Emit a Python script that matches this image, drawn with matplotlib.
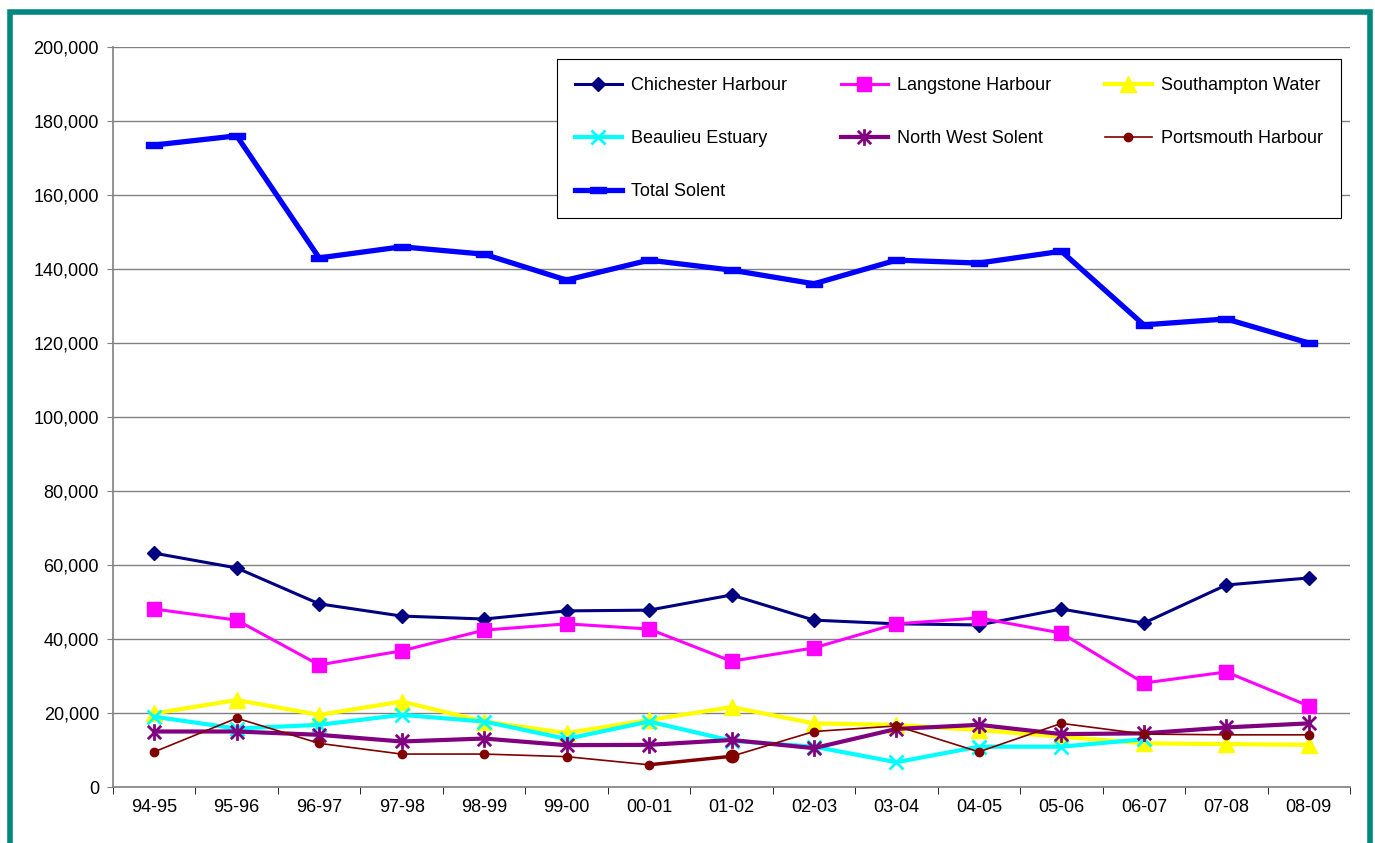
import numpy as np
import matplotlib.pyplot as plt
from matplotlib.path import Path
from matplotlib.patches import Rectangle
from matplotlib.ticker import FuncFormatter

plt.rcParams['font.family'] = ['Liberation Sans', 'DejaVu Sans']

seasons = ['94-95', '95-96', '96-97', '97-98', '98-99', '99-00', '00-01', '01-02',
           '02-03', '03-04', '04-05', '05-06', '06-07', '07-08', '08-09']

chichester = [63200, 59200, 49500, 46200, 45400, 47600, 47800, 51900,
              45100, 44100, 43800, 48100, 44300, 54600, 56500]
langstone = [48100, 45100, 33000, 36800, 42400, 44100, 42700, 34000,
             37600, 44100, 45700, 41600, 28100, 31100, 21900]
southampton = [19900, 23500, 19500, 23100, 17700, 14600, 18100, 21600,
               17200, 16800, 15400, 13600, 11800, 11600, 11400]
beaulieu = [19000, 15800, 16800, 19500, 17700, 13000, 17700, 12500,
            10900, 6700, 10900, 10900, 12900, np.nan, np.nan]
nw_solent = [15000, 15000, 14100, 12300, 13100, 11300, 11400, 12700,
             10500, 15700, 16800, 14300, 14500, 16100, 17200]
portsmouth = [9500, 18600, 11800, 8900, 8900, 8200, 6000, 8300,
              15000, 16500, 9500, 17200, 14300, 14100, 14100]
total_solent = [173500, 176000, 143000, 146000, 144000, 137000, 142400, 139700,
                136000, 142400, 141600, 144800, 124900, 126500, 120000]

# Excel-style asterisk: vertical stroke plus an X
asterisk = Path([(0, -1), (0, 1), (-0.8, -0.8), (0.8, 0.8), (-0.8, 0.8), (0.8, -0.8)],
                [Path.MOVETO, Path.LINETO, Path.MOVETO, Path.LINETO, Path.MOVETO, Path.LINETO])
dash = Path([(-1, -0.4), (1, -0.4), (1, 0.4), (-1, 0.4), (-1, -0.4)],
            [Path.MOVETO, Path.LINETO, Path.LINETO, Path.LINETO, Path.CLOSEPOLY])

fig = plt.figure(figsize=(13.75, 8.43), dpi=100)
ax = fig.add_axes([113 / 1375, 1 - 787 / 843, 1237 / 1375, 740 / 843])

x = np.arange(len(seasons))

h_chi, = ax.plot(x, chichester, color='#000080', lw=2.2, marker='D', ms=7, label='Chichester Harbour')
h_lan, = ax.plot(x, langstone, color='#FF00FF', lw=2.2, marker='s', ms=10, label='Langstone Harbour')
h_sou, = ax.plot(x, southampton, color='#FFFF00', lw=3, marker='^', ms=11, label='Southampton Water')
h_bea, = ax.plot(x, beaulieu, color='#00FFFF', lw=3, marker='x', ms=10, mew=2, label='Beaulieu Estuary')
h_nws, = ax.plot(x, nw_solent, color='#800080', lw=3, marker=asterisk, ms=12, mew=2, label='North West Solent')
h_por, = ax.plot(x, portsmouth, color='#800000', lw=1.2, marker='o', ms=6, label='Portsmouth Harbour')
# heavier stroke on the 00-01 to 01-02 stretch
ax.plot(x[6:8], portsmouth[6:8], color='#800000', lw=2.5)
ax.plot(x[7], portsmouth[7], color='#800000', marker='o', ms=9)
h_tot, = ax.plot(x, total_solent, color='#0000FF', lw=3.8, marker=dash, ms=11, label='Total Solent')

ax.set_xlim(-0.5, len(seasons) - 0.5)
ax.set_ylim(0, 200000)
ax.set_yticks(np.arange(0, 200001, 20000))
ax.yaxis.set_major_formatter(FuncFormatter(lambda v, p: f'{int(v):,}'))
ax.set_xticks(x)
ax.set_xticklabels(seasons)
ax.set_xticks(np.arange(-0.5, len(seasons), 1), minor=True)

ax.grid(axis='y', color='#808080', lw=1)
ax.set_axisbelow(True)
for s in ['top', 'right']:
    ax.spines[s].set_visible(False)
for s in ['left', 'bottom']:
    ax.spines[s].set_color('#808080')
    ax.spines[s].set_linewidth(1.2)

ax.tick_params(axis='y', labelsize=13, length=4, color='#808080', pad=6)
ax.tick_params(axis='x', which='major', labelsize=13, length=0, pad=9)
ax.tick_params(axis='x', which='minor', length=5, color='#000000')

# legend fills column by column, so order the handles to read across rows
handles = [h_chi, h_bea, h_tot, h_lan, h_nws, h_sou, h_por]
leg = ax.legend(handles=handles, labels=[h.get_label() for h in handles],
                loc='upper right', bbox_to_anchor=(1341 / 1375, 1 - 59 / 843),
                bbox_transform=fig.transFigure, ncol=3, fontsize=13, frameon=True,
                fancybox=False, edgecolor='#000000', framealpha=1,
                handlelength=2.6, handletextpad=0.5, columnspacing=3.0,
                labelspacing=2.0, borderpad=1.0, borderaxespad=0)
leg.get_frame().set_linewidth(0.8)

# teal frame round the whole chart
fig.patches.append(Rectangle((10 / 1375, -0.05), 1359.5 / 1375, 1.05 - 12 / 843,
                             transform=fig.transFigure, fill=False,
                             edgecolor='#00877F', lw=4))

fig.savefig('out.png', dpi=100)
